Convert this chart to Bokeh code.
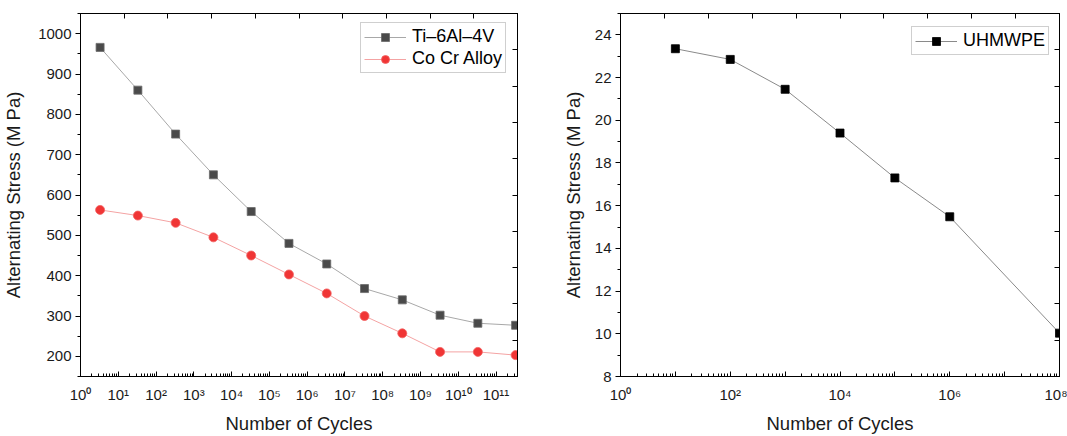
from bokeh.plotting import figure
from bokeh.models import Range1d, LinearAxis, LinearScale, FixedTicker
from bokeh.layouts import row
from bokeh.embed import file_html
from bokeh.resources import INLINE

# ---------------- data ----------------
cycles_left = [3.3e0, 3.3e1, 3.3e2, 3.3e3, 3.3e4, 3.3e5, 3.3e6, 3.3e7, 3.3e8, 3.3e9, 3.3e10, 3.3e11]
ti_stress = [966, 860, 751, 650, 559, 480, 429, 368, 340, 302, 282, 277]
cocr_stress = [563, 549, 531, 495, 450, 403, 356, 300, 257, 211, 211, 203]

cycles_right = [1e1, 1e2, 1e3, 1e4, 1e5, 1e6, 1e8]
uhmwpe_stress = [23.35, 22.85, 21.45, 19.4, 17.3, 15.48, 10.03]

left_xticks = [1e0, 1e1, 1e2, 1e3, 1e4, 1e5, 1e6, 1e7, 1e8, 1e9, 1e10, 1e11]
left_xtick_labels = ["10⁰", "10¹", "10²", "10³", "10⁴", "10⁵", "10⁶", "10⁷", "10⁸", "10⁹", "10¹⁰", "10¹¹"]
left_yticks = [200, 300, 400, 500, 600, 700, 800, 900, 1000]
left_yminor = [150, 250, 350, 450, 550, 650, 750, 850, 950, 1050]

right_xticks = [1e0, 1e1, 1e2, 1e3, 1e4, 1e5, 1e6, 1e7, 1e8]
right_xtick_labels = ["10⁰", "", "10²", "", "10⁴", "", "10⁶", "", "10⁸"]
right_yticks = [8, 10, 12, 14, 16, 18, 20, 22, 24]
right_yminor = [9, 11, 13, 15, 17, 19, 21, 23, 25]

FONT = "Liberation Sans"
TXT = "#1a1a1a"


def log_minors(lo_exp, hi_exp, upper):
    out = []
    for e in range(lo_exp, hi_exp + 1):
        for m in range(2, 10):
            v = m * 10.0 ** e
            if v <= upper:
                out.append(v)
    return out


def style(p, xticks, xlabels, xminor, yticks, yminor, ytitle_standoff):
    p.outline_line_color = "black"
    p.outline_line_width = 1
    p.background_fill_color = "white"
    p.border_fill_color = "white"
    p.xgrid.visible = False
    p.ygrid.visible = False

    xa = p.xaxis[0]
    xa.ticker = FixedTicker(ticks=xticks, minor_ticks=xminor)
    xa.major_label_overrides = {t: l for t, l in zip(xticks, xlabels)}
    xa.major_tick_in = 5
    xa.major_tick_out = 0
    xa.minor_tick_in = 3
    xa.minor_tick_out = 0
    xa.major_label_standoff = 9
    xa.axis_label_standoff = 7
    xa.axis_label = "Number of Cycles"

    ya = p.yaxis[0]
    ya.ticker = FixedTicker(ticks=yticks, minor_ticks=yminor)
    ya.major_tick_in = 0
    ya.major_tick_out = 5
    ya.minor_tick_in = 0
    ya.minor_tick_out = 3
    ya.major_label_standoff = 4
    ya.axis_label_standoff = ytitle_standoff
    ya.axis_label = "Alternating Stress (M Pa)"

    for a in (xa, ya):
        a.axis_line_color = "black"
        a.axis_line_width = 1
        a.major_tick_line_color = "black"
        a.minor_tick_line_color = "black"
        a.major_label_text_font = FONT
        a.major_label_text_font_size = "15px"
        a.major_label_text_color = TXT
        a.axis_label_text_font = FONT
        a.axis_label_text_font_size = "18.5px"
        a.axis_label_text_font_style = "normal"
        a.axis_label_text_color = TXT

    p.extra_x_ranges = {"top": Range1d(0, 10)}
    p.extra_x_scales = {"top": LinearScale()}
    p.extra_y_ranges = {"right": Range1d(0, 10)}
    top = LinearAxis(x_range_name="top", ticker=FixedTicker(ticks=list(range(11))),
                     major_tick_in=5, major_tick_out=0, minor_tick_in=0, minor_tick_out=0,
                     major_label_text_font_size="0px", major_label_standoff=0,
                     major_label_overrides={i: "" for i in range(11)},
                     axis_line_color="black", major_tick_line_color="black")
    right = LinearAxis(y_range_name="right", ticker=FixedTicker(ticks=list(range(11))),
                       major_tick_in=5, major_tick_out=0, minor_tick_in=0, minor_tick_out=0,
                       major_label_text_font_size="0px", major_label_standoff=0,
                       major_label_overrides={i: "" for i in range(11)},
                       axis_line_color="black", major_tick_line_color="black")
    p.add_layout(top, "above")
    p.add_layout(right, "right")


def style_legend(p, loc, h):
    lg = p.legend[0]
    lg.location = loc
    lg.label_text_font = FONT
    lg.label_text_font_size = "18px"
    lg.label_text_color = "black"
    lg.border_line_color = "#a0a0a0"
    lg.border_line_width = 1
    lg.background_fill_color = "white"
    lg.background_fill_alpha = 1
    lg.padding = 3
    lg.spacing = 1
    lg.margin = 0
    lg.glyph_width = 42
    lg.glyph_height = h
    lg.label_height = h
    lg.label_standoff = 6


# ---------------- left figure ----------------
p1 = figure(width=538, height=436, x_axis_type="log",
            x_range=Range1d(1, 3.7e11), y_range=Range1d(150, 1050),
            output_backend="svg", toolbar_location=None,
            min_border_left=78, min_border_right=21, min_border_top=13, min_border_bottom=60)
style(p1, left_xticks, left_xtick_labels, log_minors(0, 11, 3.7e11), left_yticks, left_yminor, 11)

p1.line(cycles_left, ti_stress, line_color="#a8a8a8", line_width=1, legend_label="Ti–6Al–4V")
p1.scatter(cycles_left, ti_stress, marker="square", size=8, fill_color="#4a4a4a",
           line_color="#6a6a6a", line_width=0.8, legend_label="Ti–6Al–4V")
p1.line(cycles_left, cocr_stress, line_color="#f4a3a3", line_width=1, legend_label="Co Cr Alloy")
p1.scatter(cycles_left, cocr_stress, marker="circle", size=9, fill_color="#f03535",
           line_color="#f36060", line_width=0.8, legend_label="Co Cr Alloy")
style_legend(p1, (280, 303), 20)

# ---------------- right figure ----------------
p2 = figure(width=529, height=436, x_axis_type="log",
            x_range=Range1d(1, 1e8), y_range=Range1d(8, 25),
            output_backend="svg", toolbar_location=None,
            min_border_left=82, min_border_right=8, min_border_top=13, min_border_bottom=60)
style(p2, right_xticks, right_xtick_labels, log_minors(0, 7, 1e8), right_yticks, right_yminor, 8)

p2.line(cycles_right, uhmwpe_stress, line_color="#8a8a8a", line_width=1, legend_label="UHMWPE")
p2.scatter(cycles_right, uhmwpe_stress, marker="square", size=8, fill_color="black",
           line_color="black", line_width=0.8, legend_label="UHMWPE")
style_legend(p2, (291, 321), 20)

layout = row(p1, p2)
open("out.html", "w").write(file_html(layout, INLINE))
